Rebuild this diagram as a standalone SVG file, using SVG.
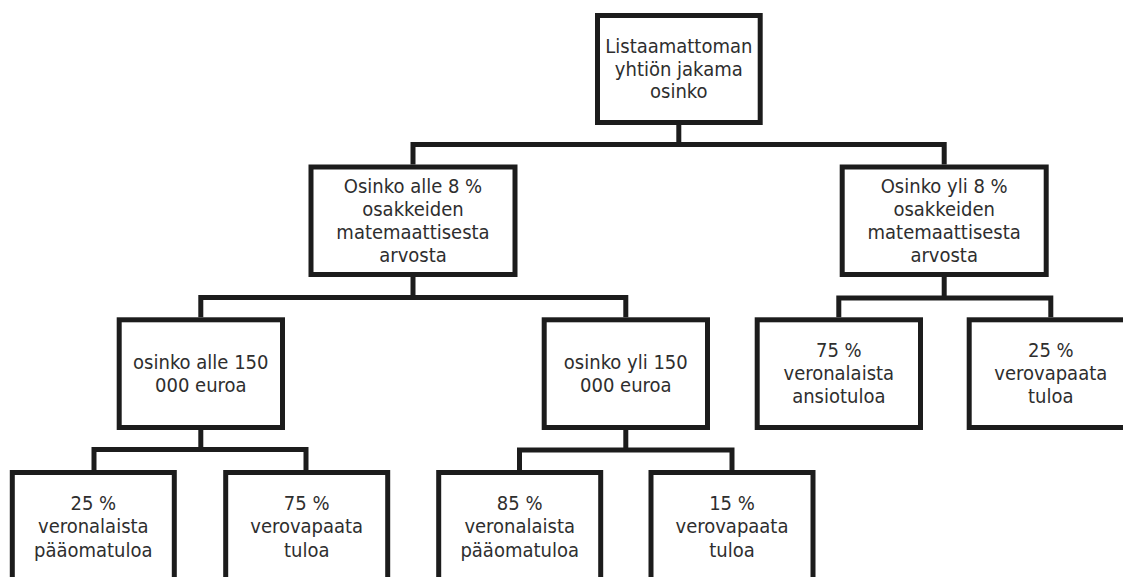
<svg xmlns="http://www.w3.org/2000/svg" width="1123" height="577" viewBox="0 0 1123 577">
<style>
.box{fill:#ffffff;stroke:#1c1c1c;stroke-width:5;stroke-linejoin:miter}
.con{fill:none;stroke:#1c1c1c;stroke-width:5;stroke-linejoin:miter;stroke-linecap:butt}
text{font-family:"DejaVu Sans Condensed","DejaVu Sans",sans-serif;font-stretch:condensed;font-size:20px;fill:#2e2e2e;text-anchor:middle}
</style>
<rect width="1123" height="577" fill="#ffffff"/>
<g id="connectors">
<polyline class="con" points="678.8,125 678.8,144.5"/>
<polyline class="con" points="413,164.5 413,144.5 944.2,144.5 944.2,164.5"/>
<polyline class="con" points="413,277 413,297.5"/>
<polyline class="con" points="200.8,317.3 200.8,297.5 625.8,297.5 625.8,317.3"/>
<polyline class="con" points="944.2,277 944.2,298"/>
<polyline class="con" points="838.8,317.3 838.8,298 1050.8,298 1050.8,317.3"/>
<polyline class="con" points="200.8,430 200.8,449.5"/>
<polyline class="con" points="94,470 94,449.5 306,449.5 306,470"/>
<polyline class="con" points="625.8,430 625.8,450"/>
<polyline class="con" points="519.5,470 519.5,450 732,450 732,470"/>
</g>
<g id="root">
<rect class="box" x="597.5" y="15.5" width="162.7" height="107"/>
<text x="678.8" y="53">Listaamattoman</text>
<text x="678.8" y="75.7">yhtiön jakama</text>
<text x="678.8" y="98.3">osinko</text>
</g>
<g id="alle8">
<rect class="box" x="311" y="167" width="204" height="107.5"/>
<text x="413" y="193">Osinko alle 8 %</text>
<text x="413" y="216">osakkeiden</text>
<text x="413" y="239">matemaattisesta</text>
<text x="413" y="262">arvosta</text>
</g>
<g id="yli8">
<rect class="box" x="842.2" y="167" width="204" height="107.5"/>
<text x="944.2" y="193">Osinko yli 8 %</text>
<text x="944.2" y="216">osakkeiden</text>
<text x="944.2" y="239">matemaattisesta</text>
<text x="944.2" y="262">arvosta</text>
</g>
<g id="alle150">
<rect class="box" x="119.2" y="319.8" width="163.3" height="107.7"/>
<text x="200.8" y="369.3">osinko alle 150</text>
<text x="200.8" y="391.7">000 euroa</text>
</g>
<g id="yli150">
<rect class="box" x="544.2" y="319.8" width="163.3" height="107.7"/>
<text x="625.8" y="369.3">osinko yli 150</text>
<text x="625.8" y="391.7">000 euroa</text>
</g>
<g id="ansio75">
<rect class="box" x="757.2" y="319.8" width="163.3" height="107.7"/>
<text x="838.8" y="356.7">75 %</text>
<text x="838.8" y="380">veronalaista</text>
<text x="838.8" y="402.7">ansiotuloa</text>
</g>
<g id="vapaa25b">
<rect class="box" x="969.2" y="319.8" width="163.3" height="107.7"/>
<text x="1050.8" y="356.7">25 %</text>
<text x="1050.8" y="380">verovapaata</text>
<text x="1050.8" y="402.7">tuloa</text>
</g>
<g id="paaoma25">
<rect class="box" x="12.3" y="472.5" width="162" height="120"/>
<text x="93.3" y="509.5">25 %</text>
<text x="93.3" y="533.3">veronalaista</text>
<text x="93.3" y="556.7">pääomatuloa</text>
</g>
<g id="vapaa75">
<rect class="box" x="225.7" y="472.5" width="162" height="120"/>
<text x="306.7" y="509.5">75 %</text>
<text x="306.7" y="533.3">verovapaata</text>
<text x="306.7" y="556.7">tuloa</text>
</g>
<g id="paaoma85">
<rect class="box" x="438.7" y="472.5" width="162" height="120"/>
<text x="519.7" y="509.5">85 %</text>
<text x="519.7" y="533.3">veronalaista</text>
<text x="519.7" y="556.7">pääomatuloa</text>
</g>
<g id="vapaa15">
<rect class="box" x="651" y="472.5" width="162" height="120"/>
<text x="732" y="509.5">15 %</text>
<text x="732" y="533.3">verovapaata</text>
<text x="732" y="556.7">tuloa</text>
</g>
</svg>
